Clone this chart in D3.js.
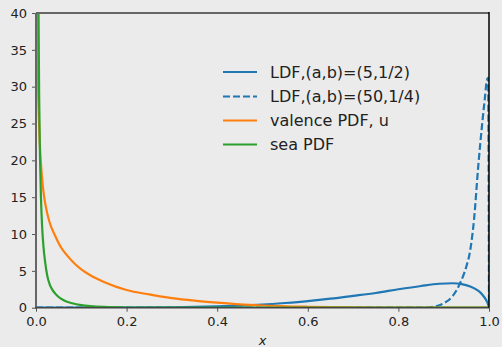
<!DOCTYPE html>
<html>
<head>
<meta charset="utf-8">
<script src="https://cdn.jsdelivr.net/npm/d3@7.9.0/dist/d3.min.js"></script>
<style>
  html, body { margin: 0; padding: 0; background: #ebebeb; }
  svg { display: block; font-family: "DejaVu Sans", sans-serif; }
</style>
</head>
<body>
<svg id="chart" width="502" height="347"></svg>
<script>
// values
const ldf1X = [0, 0.1, 0.2, 0.3, 0.35, 0.4, 0.45, 0.5, 0.55, 0.6, 0.65, 0.7, 0.75, 0.8, 0.85, 0.89, 0.92, 0.94, 0.96, 0.975, 0.985, 0.993, 0.998, 1.0];
const ldf1Y = [0, 0.005, 0.02, 0.06, 0.1, 0.17, 0.27, 0.42, 0.64, 0.9, 1.22, 1.6, 2.0, 2.5, 2.95, 3.25, 3.32, 3.2, 2.85, 2.35, 1.8, 1.1, 0.45, 0];

const ldf2X = [0, 0.5, 0.8, 0.86, 0.88, 0.9, 0.92, 0.936, 0.95, 0.958, 0.967, 0.976, 0.985, 0.991, 0.995, 0.998, 1.0];
const ldf2Y = [0, 0, 0, 0.02, 0.15, 0.6, 1.6, 3.3, 5.6, 7.6, 12, 19, 25, 28.5, 30.8, 31.2, 0];

const valX = [0.002, 0.004, 0.007, 0.011, 0.016, 0.022, 0.03, 0.042, 0.055, 0.07, 0.085, 0.1, 0.12, 0.15, 0.2, 0.25, 0.3, 0.35, 0.4, 0.45, 0.5, 0.6, 0.7, 0.8, 0.9, 1.0];
const valY = [46, 32.5, 24.5, 19.5, 16.0, 13.6, 11.6, 9.8, 8.2, 7.0, 6.0, 5.2, 4.4, 3.5, 2.4, 1.8, 1.3, 0.95, 0.68, 0.45, 0.3, 0.13, 0.04, 0.01, 0, 0];

const seaX = [0.004, 0.0056, 0.007, 0.0088, 0.011, 0.0135, 0.0165, 0.02, 0.025, 0.03, 0.036, 0.042, 0.05, 0.06, 0.07, 0.08, 0.1, 0.12, 0.15, 0.2, 0.3, 0.5, 1.0];
const seaY = [58, 40, 28.5, 20.5, 14.8, 11.0, 8.3, 6.3, 4.3, 3.2, 2.45, 1.95, 1.45, 1.05, 0.78, 0.6, 0.36, 0.22, 0.1, 0.03, 0.005, 0, 0];

const xTicks = [0, 0.2, 0.4, 0.6, 0.8, 1.0];
const yTicks = [0, 5, 10, 15, 20, 25, 30, 35, 40];

const seriesNames = ["LDF,(a,b)=(5,1/2)", "LDF,(a,b)=(50,1/4)", "valence PDF, u", "sea PDF"];
const seriesColors = ["#1f77b4", "#1f77b4", "#ff7f0e", "#2ca02c"];
const seriesDash = [null, "7,3", null, null];

const svg = d3.select('#chart');
const plotLeft = 36, plotRight = 489, plotTop = 13, plotBottom = 307.7;

const x = d3.scaleLinear().domain([0, 1]).range([plotLeft, plotRight]);
const y = d3.scaleLinear().domain([0, 40]).range([plotBottom, plotTop]);

svg.append('rect').attr('width', 502).attr('height', 347).attr('fill', '#ebebeb');

svg.append('clipPath').attr('id', 'plotclip')
  .append('rect')
  .attr('x', plotLeft).attr('y', plotTop)
  .attr('width', plotRight - plotLeft).attr('height', plotBottom - plotTop);

// axes
const xAxis = svg.append('g')
  .attr('transform', `translate(0,${plotBottom})`)
  .call(d3.axisBottom(x).tickValues(xTicks).tickFormat(d3.format('.1f')).tickSize(4).tickPadding(5));
const yAxis = svg.append('g')
  .attr('transform', `translate(${plotLeft},0)`)
  .call(d3.axisLeft(y).tickValues(yTicks).tickFormat(d3.format('d')).tickSize(4).tickPadding(5));

[xAxis, yAxis].forEach(g => {
  g.select('.domain').remove();
  g.selectAll('line').attr('stroke', '#555').attr('stroke-width', 1);
  g.selectAll('text').attr('fill', '#222').style('font-size', '13px').style('font-family', '"DejaVu Sans", sans-serif');
});

// curves
const series = [
  { xs: ldf1X, ys: ldf1Y },
  { xs: ldf2X, ys: ldf2Y },
  { xs: valX, ys: valY },
  { xs: seaX, ys: seaY }
];

const line = d3.line()
  .x(d => x(d[0]))
  .y(d => y(d[1]))
  .curve(d3.curveMonotoneX);

const plot = svg.append('g').attr('clip-path', 'url(#plotclip)');

series.forEach((s, i) => {
  const pts = s.xs.map((v, j) => [v, s.ys[j]]);
  plot.append('path')
    .attr('d', line(pts))
    .attr('fill', 'none')
    .attr('stroke', seriesColors[i])
    .attr('stroke-width', 2.2)
    .attr('stroke-dasharray', seriesDash[i]);
});

// spines
svg.append('line').attr('x1', plotLeft).attr('x2', plotLeft).attr('y1', plotTop).attr('y2', plotBottom)
  .attr('stroke', '#666').attr('stroke-width', 2);
svg.append('line').attr('x1', plotLeft).attr('x2', plotRight).attr('y1', plotTop).attr('y2', plotTop)
  .attr('stroke', '#666').attr('stroke-width', 2);
svg.append('line').attr('x1', plotLeft - 1).attr('x2', plotRight).attr('y1', plotBottom).attr('y2', plotBottom)
  .attr('stroke', '#444').attr('stroke-width', 1.5);
svg.append('line').attr('x1', plotRight).attr('x2', plotRight).attr('y1', plotTop - 1).attr('y2', plotBottom)
  .attr('stroke', '#000').attr('stroke-width', 1.5);

// legend
const legend = svg.append('g');
const legendY = [72, 96.5, 120.5, 144.5];
seriesNames.forEach((name, i) => {
  legend.append('line')
    .attr('x1', 223).attr('x2', 257)
    .attr('y1', legendY[i]).attr('y2', legendY[i])
    .attr('stroke', seriesColors[i])
    .attr('stroke-width', 2.2)
    .attr('stroke-dasharray', seriesDash[i]);
  legend.append('text')
    .attr('x', 270).attr('y', legendY[i] + 5.8)
    .attr('fill', '#222')
    .style('font-size', '16px')
    .text(name);
});

// x label
svg.append('text')
  .attr('x', (plotLeft + plotRight) / 2).attr('y', 345)
  .attr('text-anchor', 'middle')
  .attr('fill', '#222')
  .style('font-size', '13px')
  .style('font-style', 'italic')
  .text('x');
</script>
</body>
</html>
